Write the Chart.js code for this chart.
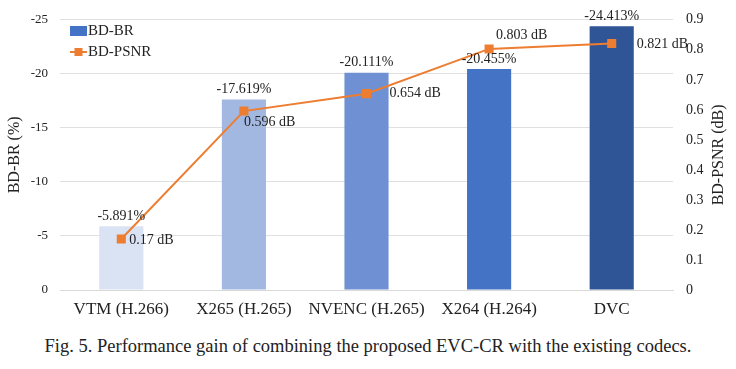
<!DOCTYPE html>
<html>
<head>
<meta charset="utf-8">
<script src="https://cdn.jsdelivr.net/npm/chart.js@4.4.1/dist/chart.umd.min.js"></script>
<style>
  html,body{margin:0;padding:0;background:#fff;}
  #wrap{width:736px;height:325px;position:relative;}
  #caption{width:736px;text-align:center;font-family:"Liberation Serif",serif;font-size:18.5px;color:#222;margin-top:11px;}
</style>
</head>
<body>
<div id="wrap"><canvas id="c" width="736" height="325"></canvas></div>
<div id="caption">Fig. 5. Performance gain of combining the proposed EVC-CR with the existing codecs.</div>
<script>
const categories = ["VTM (H.266)", "X265 (H.265)", "NVENC (H.265)", "X264 (H.264)", "DVC"];
const bdbr = [-5.891, -17.619, -20.111, -20.455, -24.413];
const bdpsnr = [0.17, 0.596, 0.654, 0.803, 0.821];
const barColors = ["#dae3f3", "#a2b8e1", "#6f91d3", "#4472c4", "#2f5597"];
const leftTicks = [0, -5, -10, -15, -20, -25];
const rightTicks = [0, 0.1, 0.2, 0.3, 0.4, 0.5, 0.6, 0.7, 0.8, 0.9];

const serif = '"Liberation Serif", "Times New Roman", serif';
const orange = "#ed7d31";

const labelPlugin = {
  id: "labels",
  afterDatasetsDraw(chart){
    const ctx = chart.ctx;
    const area = chart.chartArea;
    ctx.save();
    ctx.font = "14px " + serif;
    ctx.fillStyle = "#222";
    // bar labels
    const barMeta = chart.getDatasetMeta(0);
    barMeta.data.forEach((bar, i) => {
      ctx.textAlign = "center";
      ctx.textBaseline = "bottom";
      ctx.fillText(bdbr[i].toFixed(3).replace(/0+$/, "") + "%", bar.x, bar.y - 3);
    });
    // point labels
    const lineMeta = chart.getDatasetMeta(1);
    const offs = [[8, 1], [0, 11], [23, 0], [7, -14], [25, 1]];
    lineMeta.data.forEach((p, i) => {
      ctx.textAlign = "left";
      ctx.textBaseline = "middle";
      ctx.fillText(bdpsnr[i] + " dB", p.x + offs[i][0], p.y + offs[i][1]);
    });
    // legend
    const lx = 70, ly = 31;
    ctx.fillStyle = "#4472c4";
    ctx.fillRect(lx, ly - 5, 17, 10);
    ctx.fillStyle = "#222";
    ctx.textAlign = "left";
    ctx.font = "15px " + serif;
    ctx.fillText("BD-BR", lx + 18, ly);
    ctx.strokeStyle = orange;
    ctx.lineWidth = 2;
    ctx.beginPath();
    ctx.moveTo(lx, ly + 21);
    ctx.lineTo(lx + 17, ly + 21);
    ctx.stroke();
    ctx.fillStyle = orange;
    ctx.fillRect(lx + 4.5, ly + 17, 8, 8);
    ctx.fillStyle = "#222";
    ctx.fillText("BD-PSNR", lx + 18, ly + 21);
    // axis titles, both read bottom to top
    ctx.font = "16px " + serif;
    ctx.textAlign = "center";
    ctx.textBaseline = "middle";
    const cy = (area.top + area.bottom) / 2;
    [[15, "BD-BR (%)"], [719, "BD-PSNR (dB)"]].forEach(([x, t]) => {
      ctx.save();
      ctx.translate(x, cy);
      ctx.rotate(-Math.PI / 2);
      ctx.fillText(t, 0, 0);
      ctx.restore();
    });
    ctx.restore();
  }
};

new Chart(document.getElementById("c"), {
  data: {
    labels: categories,
    datasets: [
      {
        type: "bar",
        data: bdbr,
        yAxisID: "y",
        backgroundColor: barColors,
        barPercentage: 0.36,
        categoryPercentage: 1,
        order: 2
      },
      {
        type: "line",
        data: bdpsnr,
        yAxisID: "y1",
        borderColor: orange,
        borderWidth: 2,
        pointStyle: "rect",
        pointRadius: 5,
        pointBackgroundColor: orange,
        pointBorderColor: orange,
        tension: 0,
        order: 1
      }
    ]
  },
  options: {
    responsive: false,
    animation: false,
    layout: { padding: { top: 18, left: 0, right: 0, bottom: 0 } },
    plugins: { legend: { display: false }, tooltip: { enabled: false } },
    scales: {
      x: {
        grid: { display: false },
        border: { display: true, color: "#d9d9d9" },
        ticks: { color: "#222", font: { family: serif, size: 17 }, padding: 1 },
        afterFit(s){ s.height = 35; }
      },
      y: {
        position: "left",
        reverse: true,
        min: -25, max: 0,
        afterBuildTicks(s){ s.ticks = leftTicks.map(v => ({ value: v })); },
        grid: { color: "#e0e0e0", lineWidth: 1, drawTicks: false },
        border: { display: false },
        ticks: { color: "#222", font: { family: serif, size: 13 }, padding: 12 },
        afterFit(s){ s.width = 60; }
      },
      y1: {
        position: "right",
        min: 0, max: 0.9,
        afterBuildTicks(s){ s.ticks = rightTicks.map(v => ({ value: v })); },
        grid: { display: false },
        border: { display: false },
        ticks: { color: "#222", font: { family: serif, size: 14 }, padding: 5, callback: v => String(Math.round(v * 10) / 10) },
        afterFit(s){ s.width = 63; }
      }
    }
  },
  plugins: [labelPlugin]
});
</script>
</body>
</html>
